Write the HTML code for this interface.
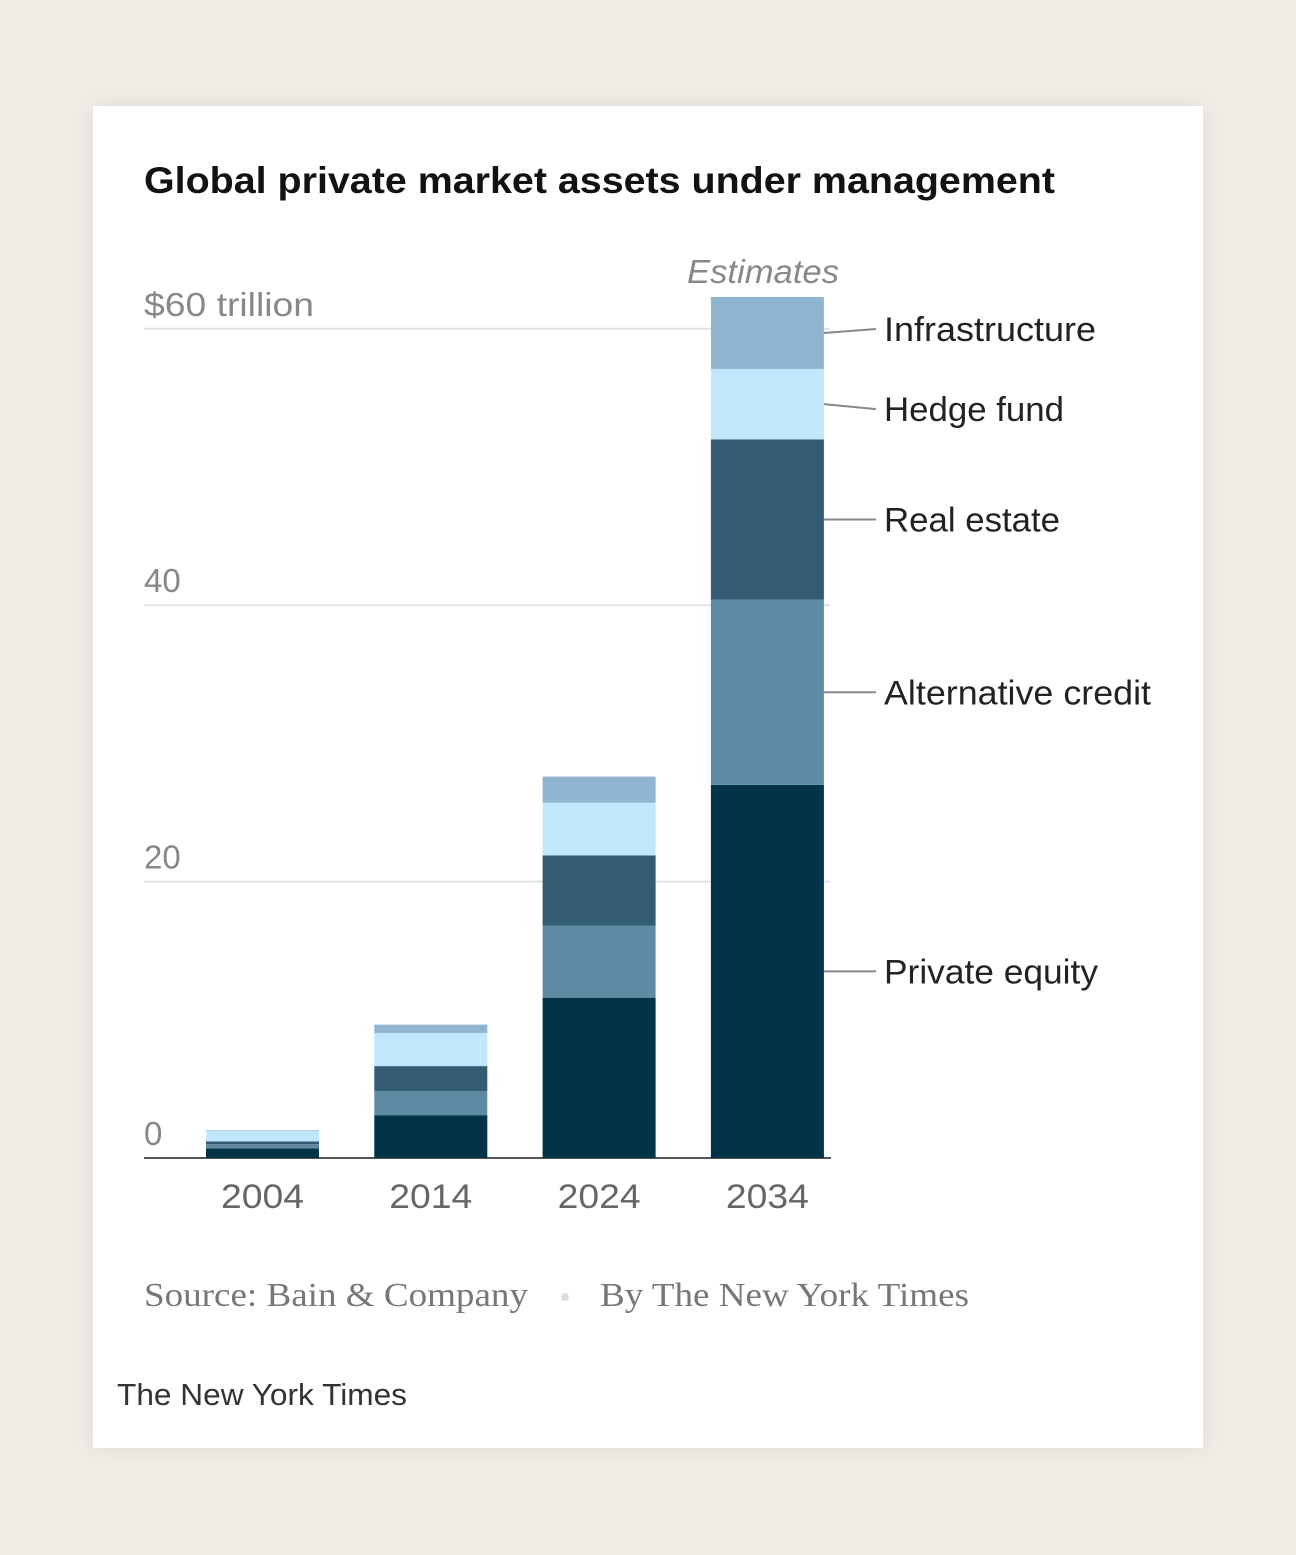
<!DOCTYPE html>
<html><head><meta charset="utf-8"><style>
body{margin:0;width:1296px;height:1555px;background:#efece5;font-family:"Liberation Sans",sans-serif;}
#card{position:absolute;left:93px;top:106px;width:1110px;height:1342px;background:#fff;box-shadow:0 0 20px rgba(0,0,0,0.08);}
svg{position:absolute;left:0;top:0;}
</style></head><body>
<div id="card"></div>
<svg width="1296" height="1555" id="chart">
<text x="144" y="193" font-size="37" font-weight="bold" fill="#121212" textLength="911" lengthAdjust="spacingAndGlyphs">Global private market assets under management</text>
<text x="144" y="1306" font-family="Liberation Serif,serif" font-size="34" fill="#777" textLength="384" lengthAdjust="spacingAndGlyphs">Source: Bain &amp; Company</text>
<circle cx="565" cy="1297" r="4" fill="#ddd"/>
<text x="600" y="1306" font-family="Liberation Serif,serif" font-size="34" fill="#777" textLength="369" lengthAdjust="spacingAndGlyphs">By The New York Times</text>
<text x="117" y="1405" font-size="31" fill="#333" textLength="290" lengthAdjust="spacingAndGlyphs">The New York Times</text>
<text x="763" y="283" font-size="33" font-style="italic" fill="#888" text-anchor="middle" textLength="152" lengthAdjust="spacingAndGlyphs">Estimates</text>
<g id="grid"></g><g id="bars"></g><g id="labels"></g>
</svg>
<script>
const years=["2004","2014","2024","2034"];
const seriesNames=["Private equity","Alternative credit","Real estate","Hedge fund","Infrastructure"];
const privateEquity=[0.7,3.1,11.6,27.0];
const altCredit=[0.3,1.75,5.2,13.4];
const realEstate=[0.2,1.8,5.1,11.6];
const hedgeFund=[0.75,2.4,3.8,5.1];
const infrastructure=[0.05,0.6,1.9,5.2];
const yTicks=[0,20,40,60];
const yTickLabels=["0","20","40","$60 trillion"];
const colors=["#013349","#5f8aa3","#335c74","#c1e7fd","#8fb5d0"];
const NS="http://www.w3.org/2000/svg";
const y0=1158,ppu=13.82;
const y=v=>y0-v*ppu;
const x=i=>206+i*168.3;
const bw=113;
const grid=document.getElementById('grid'),bars=document.getElementById('bars'),labels=document.getElementById('labels');
function mk(tag,attrs,parent,txt){const e=document.createElementNS(NS,tag);for(const k in attrs)e.setAttribute(k,attrs[k]);if(txt!==undefined)e.textContent=txt;parent.appendChild(e);return e;}
yTicks.forEach((t,i)=>{
 if(t>0){const l=mk('line',{x1:144,x2:830,y1:y(t),y2:y(t),stroke:'#e2e2e2','stroke-width':2},grid);
 
 }
 const tx=mk('text',{x:144,y:y(t)-13,'font-size':33,fill:'#888'},grid,yTickLabels[i]);
 if(t===60){tx.setAttribute('textLength','170');tx.setAttribute('lengthAdjust','spacingAndGlyphs');}
 
 
});
const series=[privateEquity,altCredit,realEstate,hedgeFund,infrastructure];
years.forEach((yr,i)=>{
 let acc=0;
 series.forEach((s,j)=>{
  const r=mk('rect',{x:x(i),y:y(acc+s[i]),width:bw,height:s[i]*ppu,fill:colors[j]},bars);
  
  
  acc+=s[i];
 });
 const t=mk('text',{x:x(i)+bw/2,y:1208,'font-size':34,fill:'#666','text-anchor':'middle',textLength:83,lengthAdjust:'spacingAndGlyphs'},labels,yr);
 
 
});
const ax=mk('line',{x1:144,x2:831,y1:y0,y2:y0,stroke:'#555','stroke-width':2},grid);


let acc=0;const li=3;
const labelWidths=[214,267,176,180,212];
series.forEach((s,j)=>{
 const mid=y(acc+s[li]/2);acc+=s[li];
 let ly=mid;
 if(j===3)ly=mid+5; if(j===4)ly=mid-4;
 const ln=mk('line',{x1:x(li)+bw,x2:876,y1:mid,y2:ly,stroke:'#888','stroke-width':2},labels);
 
 
 const tx=mk('text',{x:884,y:ly+12,'font-size':34,fill:'#222',textLength:labelWidths[j],lengthAdjust:'spacingAndGlyphs'},labels,seriesNames[j]);
 
 
});
</script>
</body></html>
